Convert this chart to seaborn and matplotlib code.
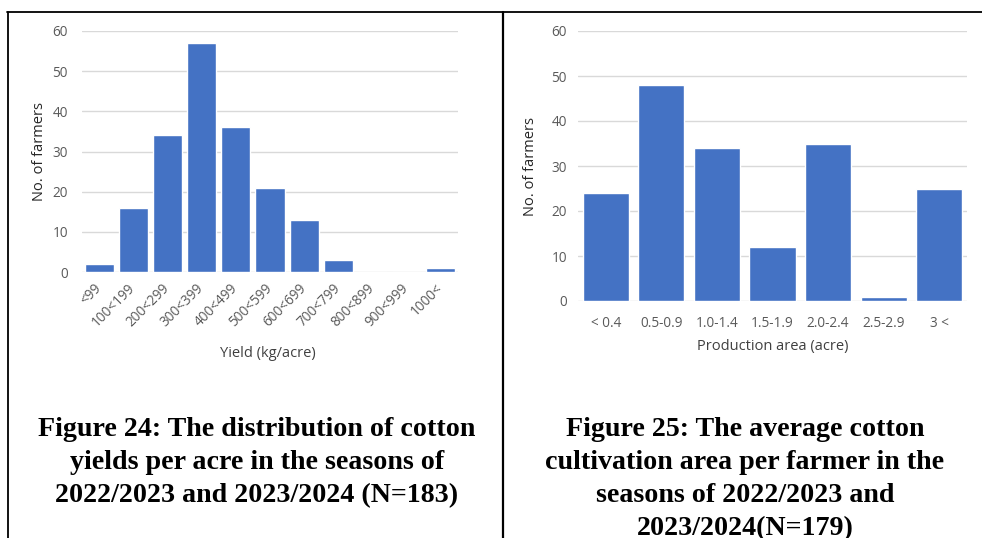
import matplotlib
matplotlib.use("Agg")
import matplotlib.pyplot as plt
from matplotlib.lines import Line2D
import seaborn as sns
import pandas as pd

# Yield distribution (kg/acre), N=183
yield_bins = ["<99", "100<199", "200<299", "300<399", "400<499", "500<599",
              "600<699", "700<799", "800<899", "900<999", "1000<"]
yield_farmers = [2, 16, 34, 57, 36, 21, 13, 3, 0, 0, 1]

# Cultivation area per farmer (acre), N=179
area_bins = ["< 0.4", "0.5-0.9", "1.0-1.4", "1.5-1.9", "2.0-2.4", "2.5-2.9", "3 <"]
area_farmers = [24, 48, 34, 12, 35, 1, 25]

y_ticks = [0, 10, 20, 30, 40, 50, 60]

caption_left = ("Figure 24: The distribution of cotton\n"
                "yields per acre in the seasons of\n"
                "2022/2023 and 2023/2024 (N=183)")
caption_right = ("Figure 25: The average cotton\n"
                 "cultivation area per farmer in the\n"
                 "seasons of 2022/2023 and\n"
                 "2023/2024(N=179)")

BAR = "#4472C4"
GRID = "#D9D9D9"
TICK = "#595959"
LABEL = "#404040"
W, H = 982, 538

sns.set_theme(style="white")
plt.rcParams["font.family"] = ["Open Sans", "DejaVu Sans"]

fig = plt.figure(figsize=(W / 100, H / 100), dpi=100)


def px_axes(x0, y0, x1, y1):
    return fig.add_axes([x0 / W, 1 - y1 / H, (x1 - x0) / W, (y1 - y0) / H])


def style(ax, ypad):
    ax.set_ylim(0, 60)
    ax.set_yticks(y_ticks)
    ax.grid(axis="y", color=GRID, linewidth=1.0)
    ax.grid(axis="x", visible=False)
    ax.set_axisbelow(True)
    for s in ax.spines.values():
        s.set_visible(False)
    ax.tick_params(axis="both", length=0, colors=TICK, labelsize=9.8)
    ax.tick_params(axis="y", pad=ypad)


# Left chart: yield
ax1 = px_axes(82, 31, 458, 272)
df1 = pd.DataFrame({"bin": yield_bins, "farmers": yield_farmers})
sns.barplot(data=df1, x="bin", y="farmers", color=BAR, saturation=1,
            width=0.85, ax=ax1)
style(ax1, 10)
ax1.set_xlim(-0.5, len(yield_bins) - 0.5)
for lbl in ax1.get_xticklabels():
    lbl.set_rotation(45)
    lbl.set_ha("right")
    lbl.set_va("center")
    lbl.set_rotation_mode("anchor")
ax1.tick_params(axis="x", pad=10)
ax1.set_xlabel("Yield (kg/acre)", fontsize=10.5, color=LABEL)
ax1.set_ylabel("No. of farmers", fontsize=10.5, color="#262626")
ax1.xaxis.set_label_coords(0.495, -0.34)
ax1.xaxis.label.set_va("center")
ax1.yaxis.set_label_coords(-0.112, 0.5)
ax1.yaxis.label.set_va("center")

# Right chart: cultivation area
ax2 = px_axes(578, 31, 967, 301)
df2 = pd.DataFrame({"bin": area_bins, "farmers": area_farmers})
sns.barplot(data=df2, x="bin", y="farmers", color=BAR, saturation=1,
            width=0.83, ax=ax2)
style(ax2, 8)
ax2.set_xlim(-0.5, len(area_bins) - 0.5)
ax2.tick_params(axis="x", pad=11)
ax2.set_xlabel("Production area (acre)", fontsize=10.5, color=LABEL)
ax2.set_ylabel("No. of farmers", fontsize=10.5, color="#262626")
ax2.xaxis.set_label_coords(0.50, -0.167)
ax2.xaxis.label.set_va("center")
ax2.yaxis.set_label_coords(-0.121, 0.5)
ax2.yaxis.label.set_va("center")

# Captions
cap_kw = dict(ha="center", va="top", fontsize=20.2, fontweight="bold",
              family=["Liberation Serif", "DejaVu Serif"], color="black",
              linespacing=1.43)
fig.text(257 / W, 1 - 417 / H, caption_left, **cap_kw)
fig.text(745 / W, 1 - 417 / H, caption_right, **cap_kw)

# Table borders
lw = 1.3
fig.add_artist(Line2D([7 / W, 1], [1 - 12 / H, 1 - 12 / H], color="black",
                      linewidth=lw, transform=fig.transFigure))
fig.add_artist(Line2D([8 / W, 8 / W], [0, 1 - 12 / H], color="black",
                      linewidth=lw, transform=fig.transFigure))
fig.add_artist(Line2D([503 / W, 503 / W], [0, 1 - 12 / H], color="black",
                      linewidth=lw + 0.3, transform=fig.transFigure))

fig.savefig("out.png", dpi=100, facecolor="white")
